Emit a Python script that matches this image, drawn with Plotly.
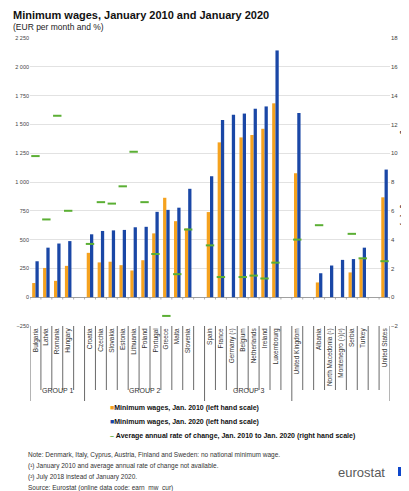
import plotly.graph_objects as go

# categories (blank entries are the spacer columns between groups)
countries = [
    "Bulgaria", "Latvia", "Romania", "Hungary", " ",
    "Croatia", "Czechia", "Slovakia", "Estonia", "Lithuania", "Poland",
    "Portugal", "Greece", "Malta", "Slovenia", "  ",
    "Spain", "France", "Germany (¹)", "Belgium", "Netherlands", "Ireland",
    "Luxembourg", "   ",
    "United Kingdom", "    ",
    "Albania", "North Macedonia (¹)", "Montenegro (¹)(²)", "Serbia", "Turkey",
    "     ",
    "United States",
]

# EUR per month
wage_2010 = [123, 254, 142, 272, None,
             385, 302, 308, 278, 232, 321, 554, 863, 660, 597, None,
             739, 1344, None, 1387, 1408, 1462, 1683, None,
             1076, None,
             128, None, None, 215, 330, None,
             867]
wage_2020 = [312, 430, 466, 487, None,
             546, 575, 580, 584, 607, 611, 741, 758, 777, 941, None,
             1050, 1539, 1584, 1594, 1636, 1656, 2142, None,
             1599, None,
             208, 275, 324, 331, 430, None,
             1108]
# average annual rate of change, %
rate_change = [9.8, 5.4, 12.6, 6.0, None,
               3.7, 6.6, 6.5, 7.7, 10.1, 6.6, 3.0, -1.3, 1.6, 4.7, None,
               3.6, 1.4, None, 1.4, 1.5, 1.3, 2.4, None,
               4.0, None,
               5.0, None, None, 4.4, 2.7, None,
               2.5]

groups = [("GROUP 1", -0.5, 4.5), ("GROUP 2", 4.5, 15.5), ("GROUP 3", 15.5, 23.5)]

ORANGE = "#F5A21F"
BLUE = "#1A47A6"
GREEN = "#5BAF34"
FONT = "Liberation Sans, Arial, sans-serif"

# plot area in pixels (409 x 491 page)
L, R, T, B = 22, 382, 30, 318
W, H = R - L, B - T


def px(x):
    return (x - L) / W


def py(y):
    return (B - y) / H


fig = go.Figure()
fig.add_trace(go.Bar(x=countries, y=wage_2010, name="Minimum wages, Jan. 2010 (left hand scale)",
                     marker_color=ORANGE, marker_line_width=0))
fig.add_trace(go.Bar(x=countries, y=wage_2020, name="Minimum wages, Jan. 2020 (left hand scale)",
                     marker_color=BLUE, marker_line_width=0))
fig.add_trace(go.Scatter(x=countries, y=rate_change, yaxis="y2", mode="markers",
                         name="Average annual rate of change, Jan. 2010 to Jan. 2020 (right hand scale)",
                         marker=dict(symbol="line-ew", size=6, line=dict(width=2, color=GREEN))))

# category separators below the plot (Excel style multi-level axis)
shapes = []
n = len(countries)
long_lines = [-0.5, 4.5, 15.5, 23.5, n - 0.5]
for i in range(n + 1):
    b = i - 0.5
    depth = 75 if b in long_lines else 64
    shapes.append(dict(type="line", xref="x", yref="paper", x0=b, x1=b, y0=0, y1=-depth / H,
                       line=dict(color="#444", width=0.8)))
    shapes.append(dict(type="line", xref="x", yref="y", x0=b, x1=b, y0=0, y1=-20,
                       line=dict(color="#999", width=0.8)))
# eurostat flag
shapes.append(dict(type="rect", xref="paper", yref="paper", x0=px(390), x1=px(402),
                   y0=py(468), y1=py(459), fillcolor="#0E47CB", line_width=0))

annotations = [
    dict(x=px(3), y=py(7), text="<b>Minimum wages, January 2010 and January 2020</b>",
         font=dict(size=11, color="#111")),
    dict(x=px(3), y=py(19), text="(EUR per month and %)", font=dict(size=8.5, color="#222")),
    dict(x=px(396), y=py(160), text="<b>Average annual rate of change (%)</b>", textangle=90,
         xanchor="center", font=dict(size=7, color="#111")),
    dict(x=px(100), y=py(400), font=dict(size=7, color="#111"),
         text=f'<span style="color:{ORANGE}">■</span><b>Minimum wages, Jan. 2010 (left hand scale)</b>'),
    dict(x=px(100), y=py(414), font=dict(size=7, color="#111"),
         text=f'<span style="color:{BLUE}">■</span><b>Minimum wages, Jan. 2020 (left hand scale)</b>'),
    dict(x=px(100), y=py(428), font=dict(size=7, color="#111"),
         text=f'<span style="color:{GREEN}"><b>–</b></span> <b>Average annual rate of change, '
              'Jan. 2010 to Jan. 2020 (right hand scale)</b>'),
    dict(x=px(18), y=py(447), font=dict(size=6.5, color="#333"),
         text="Note: Denmark, Italy, Cyprus, Austria, Finland and Sweden: no national minimum wage."),
    dict(x=px(18), y=py(458), font=dict(size=6.5, color="#333"),
         text="(¹) January 2010 and average annual rate of change not available."),
    dict(x=px(18), y=py(469), font=dict(size=6.5, color="#333"),
         text="(²) July 2018 instead of January 2020."),
    dict(x=px(18), y=py(480), font=dict(size=6.5, color="#333"),
         text="Source: Eurostat (online data code: earn_mw_cur)"),
    dict(x=px(328), y=py(464), text="eurostat", font=dict(size=13, color="#5a5a5a")),
]
for a in annotations:
    a.update(xref="paper", yref="paper", showarrow=False, yanchor="middle")
    a.setdefault("xanchor", "left")

for name, x0, x1 in groups:
    annotations.append(dict(x=(x0 + x1) / 2, y=py(388), xref="x", yref="paper", text=name,
                            showarrow=False, font=dict(size=7, color="#333")))

fig.update_layout(
    template="none",
    width=409, height=491,
    margin=dict(l=L, r=409 - R, t=T, b=491 - B, autoexpand=False),
    paper_bgcolor="white", plot_bgcolor="white",
    font=dict(family=FONT, color="#333"),
    separators=". ",
    barmode="group", bargap=0.4, bargroupgap=0,
    showlegend=False,
    xaxis=dict(type="category", categoryorder="array", categoryarray=countries,
               tickangle=-90, ticks="", showgrid=False, showline=False, automargin=False,
               tickfont=dict(size=6.5, color="#333"), range=[-0.5, n - 0.5]),
    yaxis=dict(range=[-250, 2250], dtick=250, tickformat=",d", showgrid=True,
               gridcolor="#E2E2E2", gridwidth=0.8, zeroline=True, zerolinecolor="#A0A0A0",
               zerolinewidth=1, ticks="", automargin=False, tickfont=dict(size=5.5, color="#444")),
    yaxis2=dict(range=[-2, 18], dtick=2, overlaying="y", side="right", showgrid=False,
                zeroline=False, ticks="", automargin=False, tickfont=dict(size=6, color="#444")),
    shapes=shapes,
    annotations=annotations,
)

fig.write_html("out.html")
